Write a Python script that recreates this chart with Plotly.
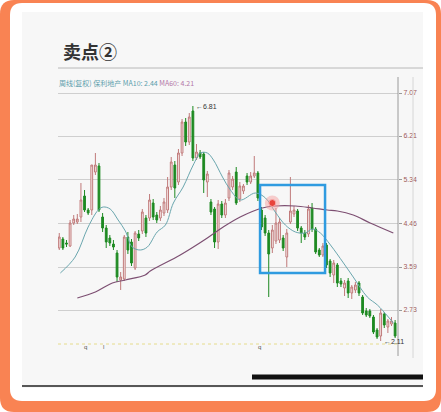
import plotly.graph_objects as go

# ---------------- data ----------------
opens = [3.97,4.15,4.07,4.01,4.47,4.49,4.59,5.01,4.73,4.73,5.49,5.61,4.59,4.37,4.17,4.05,3.87,3.33,3.35,4.19,
         4.09,3.57,4.25,4.31,4.57,4.57,4.87,4.63,4.57,4.67,4.73,5.19,5.63,5.29,5.87,6.49,6.09,6.71,5.77,5.87,
         5.85,5.29,4.89,4.75,4.09,4.85,4.63,4.97,5.19,5.49,4.95,5.11,5.41,5.29,5.41,5.47,4.73,4.57,4.27,3.97,
         4.11,4.13,4.17,3.79,4.49,4.65,4.71,4.37,4.27,4.25,4.77,4.35,3.93,3.83,4.03,3.71,3.43,3.63,3.31,3.17,
         3.31,3.07,3.13,3.27,2.99,2.71,2.71,2.59,2.33,2.21,2.65,2.39,2.45,2.47]
highs = [4.27,4.19,4.13,4.53,4.63,4.65,5.27,5.13,4.77,5.63,5.87,5.67,4.67,4.43,4.23,4.13,3.93,3.49,4.23,4.29,
         4.15,4.31,4.33,4.75,4.63,5.05,4.95,4.69,4.81,4.97,5.39,5.79,5.71,5.95,6.55,6.57,6.67,6.81,6.05,5.93,
         5.89,5.51,4.95,4.79,4.93,4.91,4.95,5.53,5.41,5.59,5.29,5.25,5.47,5.49,5.81,5.51,4.79,4.63,4.33,4.43,
         4.77,4.57,4.23,4.35,5.39,4.81,4.75,4.41,4.33,4.83,4.87,4.39,3.97,4.07,4.07,3.75,3.73,3.67,3.37,3.33,
         3.37,3.23,3.29,3.31,3.03,2.77,2.75,2.63,2.37,2.75,2.69,2.55,2.59,2.53]
lows = [3.93,3.93,3.99,3.99,4.43,4.45,4.49,4.69,4.63,4.63,5.43,4.69,4.29,3.97,4.01,3.93,3.29,3.13,3.31,3.85,
        3.61,3.53,4.11,4.25,4.19,4.51,4.53,4.47,4.51,4.61,4.67,5.13,4.97,5.23,5.81,6.01,6.03,5.71,5.73,5.75,
        5.07,4.99,4.63,3.97,3.95,4.57,4.57,4.91,5.13,4.83,4.89,5.05,5.23,5.25,5.37,4.91,4.33,4.21,2.99,3.87,
        4.05,4.07,3.91,3.59,4.45,4.59,4.31,4.07,4.13,4.19,4.29,3.85,3.79,3.79,3.57,3.39,3.27,3.19,3.19,3.01,
        2.97,2.95,3.07,3.01,2.63,2.59,2.57,2.25,2.15,2.11,2.37,2.27,2.41,2.17]
closes = [4.19,3.97,4.05,4.47,4.55,4.55,4.93,4.73,4.67,5.63,5.63,4.73,4.37,4.09,4.07,3.99,3.39,3.39,4.19,3.93,
          3.67,4.27,4.17,4.69,4.27,4.93,4.59,4.53,4.73,4.89,5.19,5.69,5.17,5.87,6.49,6.09,6.59,5.77,5.89,5.79,
          5.33,5.45,4.69,4.09,4.85,4.63,4.87,5.47,5.35,4.87,5.21,5.21,5.29,5.41,5.47,4.97,4.39,4.27,3.85,4.33,
          4.47,4.49,3.97,4.27,4.71,4.73,4.37,4.27,4.19,4.75,4.35,3.89,3.83,4.01,3.63,3.47,3.67,3.27,3.25,3.27,
          3.07,3.19,3.23,3.07,2.67,2.63,2.61,2.29,2.19,2.67,2.43,2.51,2.51,2.21]
bars = list(range(len(opens)))

ma10_x = [0.3,4.4,8.0,10.8,12.2,14.1,16.3,18.3,20.2,22.4,24.4,27.1,29.4,31.6,34.3,37.1,39.1,41.0,42.7,45.2,
          47.4,50.1,54.3,57.1,59.8,62.6,65.4,68.1,70.1,72.3,75.1,78.7,81.4,85.3,88.1,90.9,92.5]
ma10_y = [3.47,3.79,4.39,4.73,4.79,4.75,4.53,4.31,3.99,3.93,3.99,4.29,4.43,4.87,5.19,5.63,5.87,5.87,5.73,5.39,
          5.13,4.93,5.07,4.97,4.69,4.43,4.29,4.27,4.35,4.27,4.03,3.67,3.39,2.99,2.83,2.61,2.47]
ma60_x = [5.0,10.0,14.7,18.3,23.8,25.2,33.5,41.0,45.4,50.1,56.2,59.8,65.4,70.1,74.2,77.0,81.4,86.1,92.5]
ma60_y = [2.97,3.09,3.27,3.33,3.43,3.51,3.83,4.17,4.39,4.59,4.77,4.81,4.81,4.77,4.73,4.71,4.63,4.47,4.27]

y_ticks = [7.07, 6.21, 5.34, 4.46, 3.59, 2.73]
y_labels = ["7.07", "6.21", "5.34", "4.46", "3.59", "2.73"]

title_text = "卖点②"
header_left = "周线(复权) 保利地产 MA10: 2.44"
header_right = "MA60: 4.21"
high_label = "←6.81"
low_label = "←2.11"
high_bar, high_val = 37, 6.81
low_bar, low_val = 89, 2.11
box_x = [55.6, 73.6]
box_y = [3.47, 5.23]
signal_bar, signal_val = 59, 4.87

# ---------------- geometry helpers (pixel -> paper) ----------------
W, H = 441, 412
L, R, T, B = 58, 43, 88, 62
PW, PH = W - L - R, H - T - B

def px(x):
    return (x - L) / PW

def py(y):
    return (H - B - y) / PH

def rrect(x0, y0, x1, y1, r):
    rx, ry = r / PW, r / PH
    X0, X1 = px(x0), px(x1)
    Y0, Y1 = py(y1), py(y0)  # bottom, top
    return (f"M {X0+rx} {Y1} L {X1-rx} {Y1} Q {X1} {Y1} {X1} {Y1-ry} "
            f"L {X1} {Y0+ry} Q {X1} {Y0} {X1-rx} {Y0} L {X0+rx} {Y0} "
            f"Q {X0} {Y0} {X0} {Y0+ry} L {X0} {Y1-ry} Q {X0} {Y1} {X0+rx} {Y1} Z")

fig = go.Figure()

fig.add_trace(go.Candlestick(
    x=bars, open=opens, high=highs, low=lows, close=closes,
    increasing=dict(line=dict(color="#c07a7a", width=1), fillcolor="#fbf1f1"),
    decreasing=dict(line=dict(color="#1e8a22", width=1), fillcolor="#1e8a22"),
    whiskerwidth=0, showlegend=False, hoverinfo="skip"))

fig.add_trace(go.Scatter(x=ma10_x, y=ma10_y, mode="lines",
                         line=dict(color="#6aa6ae", width=1, shape="spline"),
                         showlegend=False, hoverinfo="skip"))
fig.add_trace(go.Scatter(x=ma60_x, y=ma60_y, mode="lines",
                         line=dict(color="#7d4f72", width=1.2, shape="spline"),
                         showlegend=False, hoverinfo="skip"))

# signal marker
fig.add_trace(go.Scatter(x=[signal_bar], y=[signal_val], mode="markers",
                         marker=dict(size=15, color="rgba(245,150,150,0.45)"),
                         showlegend=False, hoverinfo="skip"))
fig.add_trace(go.Scatter(x=[signal_bar], y=[signal_val], mode="markers",
                         marker=dict(size=7, color="#e8443c", line=dict(color="#f7b0b0", width=1)),
                         showlegend=False, hoverinfo="skip"))

shapes = [
    dict(type="path", path=rrect(0, 0, 441, 412, 14), xref="paper", yref="paper",
         fillcolor="#f98353", line=dict(width=0), layer="below"),
    dict(type="path", path=rrect(10, 3, 436, 401, 12), xref="paper", yref="paper",
         fillcolor="#ffffff", line=dict(width=0), layer="below"),
    dict(type="rect", x0=px(22), x1=px(423), y0=py(388), y1=py(12), xref="paper", yref="paper",
         fillcolor="#f7f7f7", line=dict(width=0), layer="below"),
    # title underline
    dict(type="line", x0=px(58), x1=px(423), y0=py(68), y1=py(68), xref="paper", yref="paper",
         line=dict(color="#b8b8b8", width=1)),
    # right axis line
    dict(type="line", x0=px(398), x1=px(398), y0=py(77), y1=py(356), xref="paper", yref="paper",
         line=dict(color="#9a9a9a", width=1)),
    # second vertical line
    dict(type="line", x0=px(413), x1=px(413), y0=py(77), y1=py(358), xref="paper", yref="paper",
         line=dict(color="#d6d6d6", width=1)),
    # dotted base line
    dict(type="line", x0=px(58), x1=px(398), y0=py(344), y1=py(344), xref="paper", yref="paper",
         line=dict(color="#e6dc8c", width=1, dash="dot")),
    # bottom black line
    dict(type="line", x0=px(22), x1=px(423), y0=py(386), y1=py(386), xref="paper", yref="paper",
         line=dict(color="#222222", width=1.5)),
    # scrollbar
    dict(type="line", x0=px(252), x1=px(423), y0=py(377), y1=py(377), xref="paper", yref="paper",
         line=dict(color="#111111", width=5)),
    # highlight box
    dict(type="rect", x0=box_x[0], x1=box_x[1], y0=box_y[0], y1=box_y[1], xref="x", yref="y",
         line=dict(color="#2f9be0", width=2.5), fillcolor="rgba(0,0,0,0)"),
]

annotations = [
    dict(text=f"<b>{title_text}</b>", x=px(61), y=py(51), xref="paper", yref="paper", xanchor="left",
         yanchor="middle", showarrow=False,
         font=dict(family="Noto Sans CJK SC", size=18, color="#333333"), ),
    dict(text=f'<span style="color:#5c9eac">{header_left}</span> <span style="color:#b478a8">{header_right}</span>',
         x=px(57), y=py(83), xref="paper", yref="paper", xanchor="left", yanchor="middle",
         showarrow=False, font=dict(family="Noto Sans CJK SC", size=7)),
    dict(text=high_label, x=high_bar + 0.3, y=high_val, xref="x", yref="y", xanchor="left",
         yanchor="middle", showarrow=False, font=dict(family="Liberation Sans", size=7, color="#333333")),
    dict(text=low_label, x=low_bar + 0.3, y=low_val, xref="x", yref="y", xanchor="left",
         yanchor="middle", showarrow=False, font=dict(family="Liberation Sans", size=7, color="#333333")),
]
for mx, mt in [(85, "q"), (103, "l"), (259, "q")]:
    annotations.append(dict(text=mt, x=px(mx), y=py(347), xref="paper", yref="paper",
                            xanchor="center", yanchor="middle", showarrow=False,
                            font=dict(family="Liberation Sans", size=6, color="#555555")))

fig.update_layout(
    width=W, height=H,
    margin=dict(l=L, r=R, t=T, b=B, pad=0),
    paper_bgcolor="#ffffff", plot_bgcolor="rgba(0,0,0,0)",
    shapes=shapes, annotations=annotations,
    xaxis=dict(range=[-0.35, 93.8], visible=False, rangeslider=dict(visible=False),
               fixedrange=True),
    yaxis=dict(range=[7.07 - (350 - 93) * 0.02, 7.07 + (93 - 88) * 0.02], side="right",
               tickvals=y_ticks, ticktext=y_labels, showgrid=True, gridcolor="#cfcfcf",
               gridwidth=1, zeroline=False, showline=False, ticks="outside", ticklen=3,
               tickcolor="#9a9a9a", tickfont=dict(family="Liberation Sans", size=7, color="#a05a5a"),
               fixedrange=True),
)

fig.write_html("out.html", config={"displayModeBar": False},
               post_script="document.body.style.margin='0';document.body.style.padding='0';")
